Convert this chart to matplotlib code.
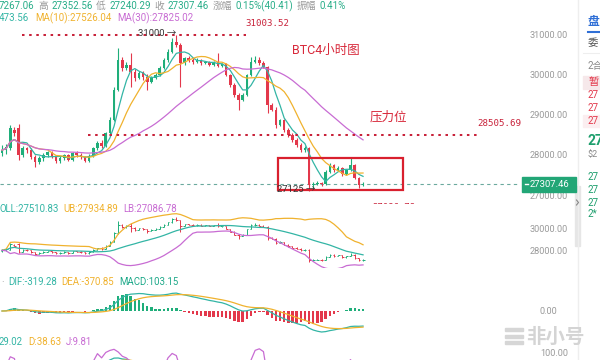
import numpy as np
import pandas as pd
import matplotlib
matplotlib.use("Agg")
import matplotlib.pyplot as plt
from matplotlib.patches import Rectangle

plt.rcParams['font.family'] = ['Roboto', 'Noto Sans CJK SC', 'DejaVu Sans']

# ---------------- data (BTC 4h candles) ----------------
opens = [28070, 28140, 28200, 28650, 28700, 28020, 28190, 28140, 27970, 27850,
         27940, 28020, 28090, 27990, 27870, 27950, 28020, 27900, 28060, 28010,
         27960, 27880, 28000, 28190, 28320, 28240, 28560, 28900, 29640, 30380,
         30180, 30260, 30080, 29930, 30060, 29960, 29830, 29930, 30010, 30180,
         30380, 30580, 30830, 30750, 30300, 30430, 30380, 30330, 30380, 30300,
         30330, 30260, 30330, 30230, 30280, 30010, 29760, 29510, 29390, 29510,
         30010, 30330, 30380, 30300, 30210, 29260, 29140, 28760, 28890, 28640,
         28520, 28390, 28270, 28140, 28190, 27270, 27310, 27330, 27290, 27600,
         27770, 27650, 27700, 27550, 27650, 27770, 27450, 27267.06]
highs = [28260, 28300, 28760, 28720, 28780, 28250, 28230, 28200, 28010, 28000,
         28060, 28130, 28110, 28020, 28000, 28050, 28040, 28100, 28120, 28070,
         28000, 28050, 28230, 28360, 28400, 28600, 28960, 29700, 30680, 30450,
         30330, 30560, 30150, 30110, 30100, 30020, 29980, 30060, 30220, 30420,
         30650, 30930, 31003.52, 30800, 30460, 30470, 30420, 30420, 30400, 30360,
         30350, 30360, 30550, 30300, 30300, 30040, 29800, 29560, 29560, 30040,
         30450, 30480, 30450, 30350, 30240, 29300, 29200, 28920, 28910, 28700,
         28560, 28440, 28310, 28250, 28230, 27360, 27380, 27360, 27640, 27820,
         27800, 27740, 27720, 27680, 27950, 27800, 27480, 27352.56]
lows = [27990, 28050, 28150, 28500, 27890, 27960, 28080, 27920, 27720, 27800,
        27870, 27980, 27940, 27820, 27830, 27900, 27860, 27880, 27970, 27930,
        27840, 27850, 27980, 28150, 28200, 28220, 28520, 28870, 29600, 30100,
        30120, 29710, 29850, 29900, 29880, 29630, 29800, 29900, 29980, 30150,
        30330, 30550, 30700, 29710, 30250, 30330, 30290, 30300, 30260, 30270,
        30220, 30230, 30200, 30200, 29970, 29720, 29450, 29140, 29360, 29480,
        29980, 30300, 30260, 30170, 29060, 29100, 28700, 28740, 28600, 28460,
        28350, 28230, 28100, 28100, 27125, 27200, 27280, 27250, 27270, 27560,
        27600, 27620, 27500, 27520, 27620, 27420, 27200, 27240.29]
closes = [28140, 28220, 28690, 28560, 28020, 28190, 28140, 27970, 27850, 27940,
          28020, 28090, 27990, 27870, 27950, 28020, 27900, 28060, 28010, 27960,
          27880, 28000, 28190, 28320, 28240, 28560, 28900, 29640, 30380, 30180,
          30260, 30080, 29930, 30060, 29960, 29830, 29930, 30010, 30180, 30380,
          30580, 30830, 30750, 30300, 30430, 30380, 30330, 30380, 30300, 30330,
          30260, 30330, 30230, 30280, 30010, 29760, 29510, 29390, 29510, 30010,
          30330, 30380, 30300, 30210, 29260, 29140, 28760, 28890, 28640, 28520,
          28390, 28270, 28140, 28190, 27270, 27310, 27330, 27290, 27600, 27770,
          27650, 27700, 27550, 27650, 27770, 27450, 27267.06, 27307.46]

main_ticks = [31000, 30000, 29000, 28000, 27000]
boll_ticks = [30000, 28000]
high_mark = 31003.52
low_mark = 27125
resistance = 28505.69
last_price = 27307.46
box_top, box_bottom = 27950, 27150

header_items = [("7267.06", 'v'), ("高", 'l'), ("27352.56", 'v'), ("低", 'l'), ("27240.29", 'v'),
                ("收", 'l'), ("27307.46", 'v'), ("涨幅", 'l'), ("0.15%(40.41)", 'v'),
                ("振幅", 'l'), ("0.41%", 'v')]
ma_text = ["473.56", "MA(10):27526.04", "MA(30):27825.02"]
boll_text = ["OLL:27510.83", "UB:27934.89", "LB:27086.78"]
macd_text = ["DIF:-319.28", "DEA:-370.85", "MACD:103.15"]
kdj_text = ["29.02", "D:38.63", "J:9.81"]

# ---------------- styles ----------------
GREEN = '#1fae7a'
RED = '#e3384b'
TEAL = '#33b5a5'
ORANGE = '#f0b22e'
PURPLE = '#c86cd3'
DRED = '#c8223a'
GRAY = '#9a9a9a'

W, H = 600, 360
fig = plt.figure(figsize=(6, 3.6), dpi=100, facecolor='white')
renderer = fig.canvas.get_renderer()

def rect(x0, y0, x1, y1):
    return [x0 / W, 1 - y1 / H, (x1 - x0) / W, (y1 - y0) / H]

PX0, PXS = 2.0, 4.15  # candle pixel origin & spacing
def idx(xpx):
    return (xpx - PX0) / PXS
XL = (idx(0), idx(520))

o = np.array(opens, float); h = np.array(highs, float)
l = np.array(lows, float); c = np.array(closes, float)
n = len(c); xs = np.arange(n)
cs = pd.Series(c)
ma5 = cs.rolling(5, min_periods=1).mean()
ma10 = cs.rolling(10, min_periods=1).mean()
ma30 = cs.rolling(30, min_periods=1).mean()
mid = cs.rolling(20, min_periods=1).mean()
sd = cs.rolling(20, min_periods=1).std(ddof=0)
ub = mid + 2 * sd; lb = mid - 2 * sd
e12 = cs.ewm(span=12, adjust=False).mean(); e26 = cs.ewm(span=26, adjust=False).mean()
dif = e12 - e26; dea = dif.ewm(span=9, adjust=False).mean(); hist = 2 * (dif - dea)
lo9 = pd.Series(l).rolling(9, min_periods=1).min(); hi9 = pd.Series(h).rolling(9, min_periods=1).max()
rsv = ((cs - lo9) / (hi9 - lo9).replace(0, np.nan) * 100).fillna(50)
K = [50.0]; D = [50.0]
for v in rsv:
    K.append(K[-1] * 2 / 3 + v / 3); D.append(D[-1] * 2 / 3 + K[-1] / 3)
K = np.array(K[1:]); D = np.array(D[1:]); J = 3 * K - 2 * D

def clean(ax):
    for s in ax.spines.values():
        s.set_visible(False)
    ax.set_xticks([]); ax.set_yticks([])
    ax.set_xlim(*XL)
    ax.patch.set_alpha(0)

up = c >= o
cols = np.where(up, GREEN, RED)

# ---------------- main chart ----------------
ax = fig.add_axes(rect(0, 26, 520, 204))
clean(ax)
ytop = 31000 + (35 - 26) * 24.84
ybot = 31000 - (204 - 35) * 24.84
ax.set_ylim(ybot, ytop)
ax.vlines(xs, l, h, colors=cols, lw=0.8, zorder=2)
ax.bar(xs, np.maximum(np.abs(c - o), 18), bottom=np.minimum(o, c), width=0.62,
       color=cols, zorder=3, linewidth=0)
ax.plot(xs, ma5, color=TEAL, lw=0.9, zorder=4)
ax.plot(xs, ma10, color=ORANGE, lw=0.9, zorder=4)
ax.plot(xs, ma30, color=PURPLE, lw=0.9, zorder=4)
dots = dict(color=DRED, lw=1.45, linestyle=(0, (1.25, 2.3)), dash_capstyle='butt', zorder=5)
ax.plot([idx(22), idx(246)], [high_mark, high_mark], **dots)
ax.plot([idx(88), idx(477)], [resistance, resistance], **dots)
ax.plot([XL[0], XL[1]], [last_price, last_price], color='#6ba99e', lw=0.8,
        linestyle=(0, (3, 3)), zorder=1)
ax.add_patch(Rectangle((idx(278), box_bottom), idx(403) - idx(278), box_top - box_bottom,
                       fill=False, edgecolor='#d9202e', lw=1.6, zorder=6))
ax.text(idx(372), ybot - 75, "27086.78", color=DRED, fontsize=6.5,
        family='DejaVu Sans Mono', va='center', ha='left', clip_on=True)

# ---------------- BOLL panel ----------------
bx = fig.add_axes(rect(0, 213, 520, 268))
clean(bx)
s = 0.0115
bx.set_ylim(30000 - 39 / s, 30000 + 16 / s)
bx.vlines(xs, l, h, colors=cols, lw=0.7)
bx.hlines(o, xs - 0.35, xs, colors=cols, lw=0.7)
bx.hlines(c, xs, xs + 0.35, colors=cols, lw=0.7)
bx.plot(xs, ub, color=ORANGE, lw=0.9)
bx.plot(xs, mid, color=TEAL, lw=0.9)
bx.plot(xs, lb, color=PURPLE, lw=0.9)

# ---------------- MACD panel ----------------
mx = fig.add_axes(rect(0, 287, 520, 338))
clean(mx)
amax = float(max(dif.abs().max(), dea.abs().max()))
sc = 21.0 / amax
mx.set_ylim(-(338 - 311) / sc, (311 - 287) / sc)
mx.bar(xs, hist, width=0.6, color=np.where(hist >= 0, GREEN, RED), linewidth=0)
mx.plot(xs, dif, color=TEAL, lw=0.9)
mx.plot(xs, dea, color=ORANGE, lw=0.9)

# ---------------- KDJ panel ----------------
kx = fig.add_axes(rect(0, 346, 520, 360))
clean(kx)
ks = 0.45
kx.set_ylim(100 - 7 / ks, 100 + 7 / ks)
kx.plot(xs, K, color=TEAL, lw=0.9)
kx.plot(xs, D, color=ORANGE, lw=0.9)
kx.plot(xs, J, color=PURPLE, lw=0.9)

# ---------------- overlay: texts & decorations ----------------
ov = fig.add_axes([0, 0, 1, 1], zorder=10)
ov.set_xlim(0, W); ov.set_ylim(H, 0); ov.axis('off'); ov.patch.set_alpha(0)

def T(x, y, t, color, size=7.5, **kw):
    kw.setdefault('ha', 'left'); kw.setdefault('va', 'center')
    return ov.text(x, y, t, color=color, fontsize=size, **kw)

def chain(x, y, items, size, gap):
    for t, col in items:
        txt = T(x, y, t, col, size)
        bb = txt.get_window_extent(renderer)
        x = bb.x1 + gap

HC = '#27ad88'
chain(-1, 6, [(t, HC if k == 'v' else GRAY) for t, k in header_items], 7.0, 3.5)
chain(-1, 18, [(ma_text[0], TEAL), (ma_text[1], ORANGE), (ma_text[2], PURPLE)], 7.0, 6)

T(245, 23, f"{high_mark:.2f}", DRED, 6.6, family='DejaVu Sans Mono')
T(138, 34, "31000 →", '#333333', 6.8)
T(292, 50, "BTC4小时图", '#d8293b', 9)
T(370, 117, "压力位", '#d8293b', 9)
T(477, 124, f"{resistance:.2f}", DRED, 6.6, family='DejaVu Sans Mono')
T(277, 189, f"{low_mark} →", '#333333', 6.8)

for v in main_ticks:
    y = 35 + (31000 - v) / 24.84
    T(530, y, f"{v:.2f}", GRAY, 6.6)
ov.add_patch(Rectangle((522, 176.5), 54, 15.5, color='#22a676', zorder=11))
ov.plot([524.5, 527.5], [184.2, 184.2], color='white', lw=1, zorder=12)
T(530, 184.5, f"{last_price:.2f}", 'white', 6.8, zorder=12)

chain(-1, 209, [(boll_text[0], TEAL), (boll_text[1], ORANGE), (boll_text[2], PURPLE)], 6.9, 5)
for v in boll_ticks:
    T(530, 229 + (30000 - v) * 0.0115, f"{v:.2f}", GRAY, 6.6)

T(1, 282, "·", GRAY, 7)
chain(8, 282, [(macd_text[0], TEAL), (macd_text[1], ORANGE), (macd_text[2], '#1fa98a')], 6.9, 5)
T(540, 311, "0.00", GRAY, 6.6)

chain(-1, 342, [(kdj_text[0], TEAL), (kdj_text[1], ORANGE), (kdj_text[2], PURPLE)], 6.9, 5)
T(540, 353, "100.00", GRAY, 6.6)

# watermark
for k in range(3):
    ov.add_patch(Rectangle((505, 328 + k * 6.5), 18, 3.2, color='#d6d6d6', zorder=9))
T(526, 337, "非小号", '#d4d4d4', 14, weight='bold', zorder=9)

# right sidebar (cut off by the screenshot edge)
ov.plot([578, 578], [0, 360], color='#eeeeee', lw=1)
ov.add_patch(Rectangle((575, 186), 5, 60, color='#e6e6e6'))
ov.plot([576.5, 578.5, 576.5], [200, 202.5, 205], color='#888888', lw=0.8)
T(588, 21, "盘", '#2f6fd6', 8.5, weight='bold')
ov.plot([588, 600], [32, 32], color='#2f6fd6', lw=1.5)
T(588, 43, "委", '#555555', 7.5)
ov.plot([583, 600], [53, 53], color='#eeeeee', lw=0.8)
T(588, 66, "2合", '#888888', 7)
ov.add_patch(Rectangle((583, 76), 17, 13, color='#f6e8ea'))
T(588, 82, "暂", RED, 7.5)
ov.add_patch(Rectangle((583, 115), 17, 12, color='#fbeef0'))
for y in (95, 108, 121):
    T(588, y, "27", RED, 7)
T(588, 141, "27", '#1c9e6c', 10, weight='bold')
T(588, 155, "$2", '#888888', 6.5)
for y in (177, 190, 203):
    T(588, y, "27", '#1c9e6c', 7)
T(588, 214, "2*", '#1c9e6c', 7)

fig.savefig("out.png", dpi=100, facecolor='white')
